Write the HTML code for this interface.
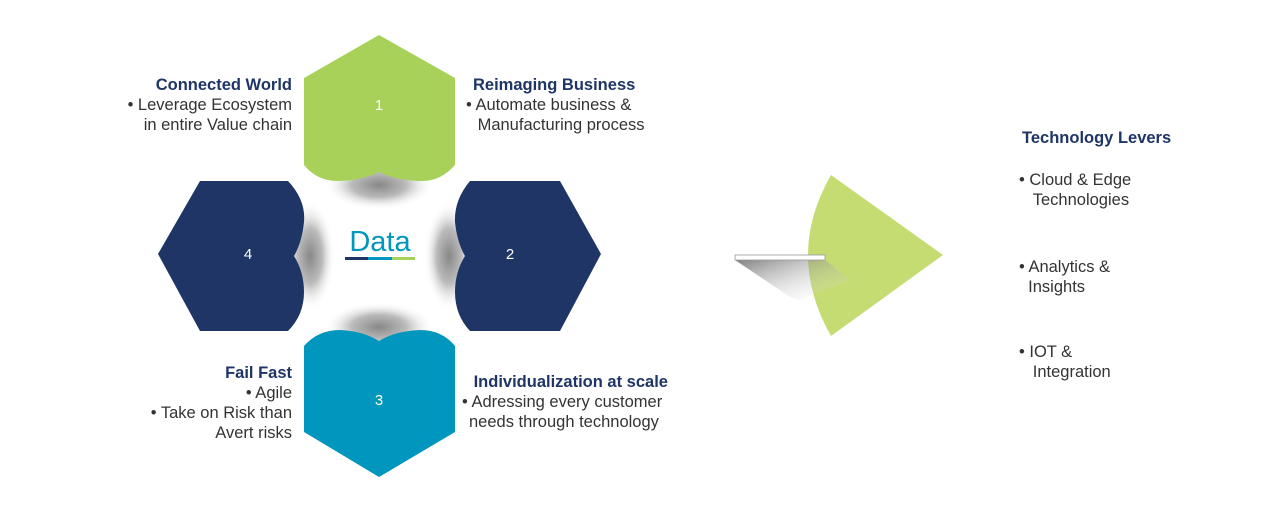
<!DOCTYPE html>
<html><head><style>
body{margin:0;width:1280px;height:512px;background:#fff;overflow:hidden;font-family:"Liberation Sans",sans-serif;position:relative}
.t{position:absolute;font-size:16.5px;color:#333;line-height:20px;white-space:nowrap}
.h{font-weight:bold;color:#1f3566;font-size:16.5px}
.r{text-align:right}
.ind{display:inline-block;padding-left:7px}
</style></head><body>
<svg width="1280" height="512" style="position:absolute;left:0;top:0">
<defs>
<radialGradient id="sh" cx="50%" cy="50%" r="50%"><stop offset="0" stop-color="#888"/><stop offset="0.5" stop-color="#bbb"/><stop offset="1" stop-color="#fff" stop-opacity="0"/></radialGradient>
<linearGradient id="bs" x1="0" y1="0" x2="1" y2="1"><stop offset="0" stop-color="#555"/><stop offset="1" stop-color="#fff" stop-opacity="0"/></linearGradient>
</defs>
<ellipse cx="379" cy="185" rx="55" ry="25" fill="url(#sh)"/>
<ellipse cx="379" cy="327" rx="55" ry="25" fill="url(#sh)"/>
<ellipse cx="310" cy="256" rx="25" ry="55" fill="url(#sh)"/>
<ellipse cx="449" cy="256" rx="25" ry="55" fill="url(#sh)"/>
<path d="M379,35 L455,78 L455,165 Q440,182 420,181 Q395,180 379,172 Q363,180 340,181 Q318,182 304,165 L304,78 Z" fill="#a8d15a"/>
<path d="M379,341 Q395,331 420,330 Q442,330 455,346 L455,432 L379,477 L304,432 L304,346 Q318,330 340,330 Q363,331 379,341 Z" fill="#0096be"/>
<path d="M158,254 L200,181 L288,181 Q306,200 304,222 Q302,242 294,256 Q304,272 304,292 Q304,315 288,331 L200,331 Z" fill="#1f3566"/>
<path d="M601,254 L560,181 L470,181 Q454,200 455,222 Q457,242 465,256 Q455,272 455,292 Q455,315 470,331 L560,331 Z" fill="#1f3566"/>
<text x="379" y="110" font-size="15" fill="#fff" text-anchor="middle" font-family="Liberation Sans">1</text>
<text x="510" y="259" font-size="15" fill="#fff" text-anchor="middle" font-family="Liberation Sans">2</text>
<text x="379" y="405" font-size="15" fill="#fff" text-anchor="middle" font-family="Liberation Sans">3</text>
<text x="248" y="259" font-size="15" fill="#fff" text-anchor="middle" font-family="Liberation Sans">4</text>
<text x="380" y="251" font-size="29" fill="#0096be" text-anchor="middle" font-family="Liberation Sans">Data</text>
<rect x="345" y="257" width="23" height="3" fill="#1f3566"/>
<rect x="368" y="257" width="24" height="3" fill="#0096be"/>
<rect x="392" y="257" width="23" height="3" fill="#a8d15a"/>
<path d="M831,175 L943,255 L831,336 Q785,255 831,175 Z" fill="#c5dc72"/>
<path d="M735,260 L790,297 L800,300 L850,280 L825,260 Z" fill="url(#bs)" opacity="0.75"/>
<rect x="735" y="255" width="90" height="5" fill="#fff" stroke="#999" stroke-width="0.8"/>
</svg>
<div class="t r" style="right:988px;top:75px"><span class="h">Connected World</span><br>• Leverage Ecosystem<br>in entire Value chain</div>
<div class="t" style="left:466px;top:75px"><span class="h ind">Reimaging Business</span><br>• Automate business &amp;<br><span class="ind">&nbsp;Manufacturing process</span></div>
<div class="t r" style="right:988px;top:363px"><span class="h">Fail Fast</span><br>• Agile<br>• Take on Risk than<br>Avert risks</div>
<div class="t" style="left:462px;top:372px"><span class="h ind">&nbsp;Individualization at scale</span><br>• Adressing every customer<br><span class="ind">needs through technology</span></div>
<div class="t" style="left:1022px;top:128px"><span class="h">Technology Levers</span></div>
<div class="t" style="left:1019px;top:170px">• Cloud &amp; Edge<br>&nbsp;&nbsp;&nbsp;Technologies</div>
<div class="t" style="left:1019px;top:257px">• Analytics &amp;<br>&nbsp;&nbsp;Insights</div>
<div class="t" style="left:1019px;top:342px">• IOT &amp;<br>&nbsp;&nbsp;&nbsp;Integration</div>
</body></html>
